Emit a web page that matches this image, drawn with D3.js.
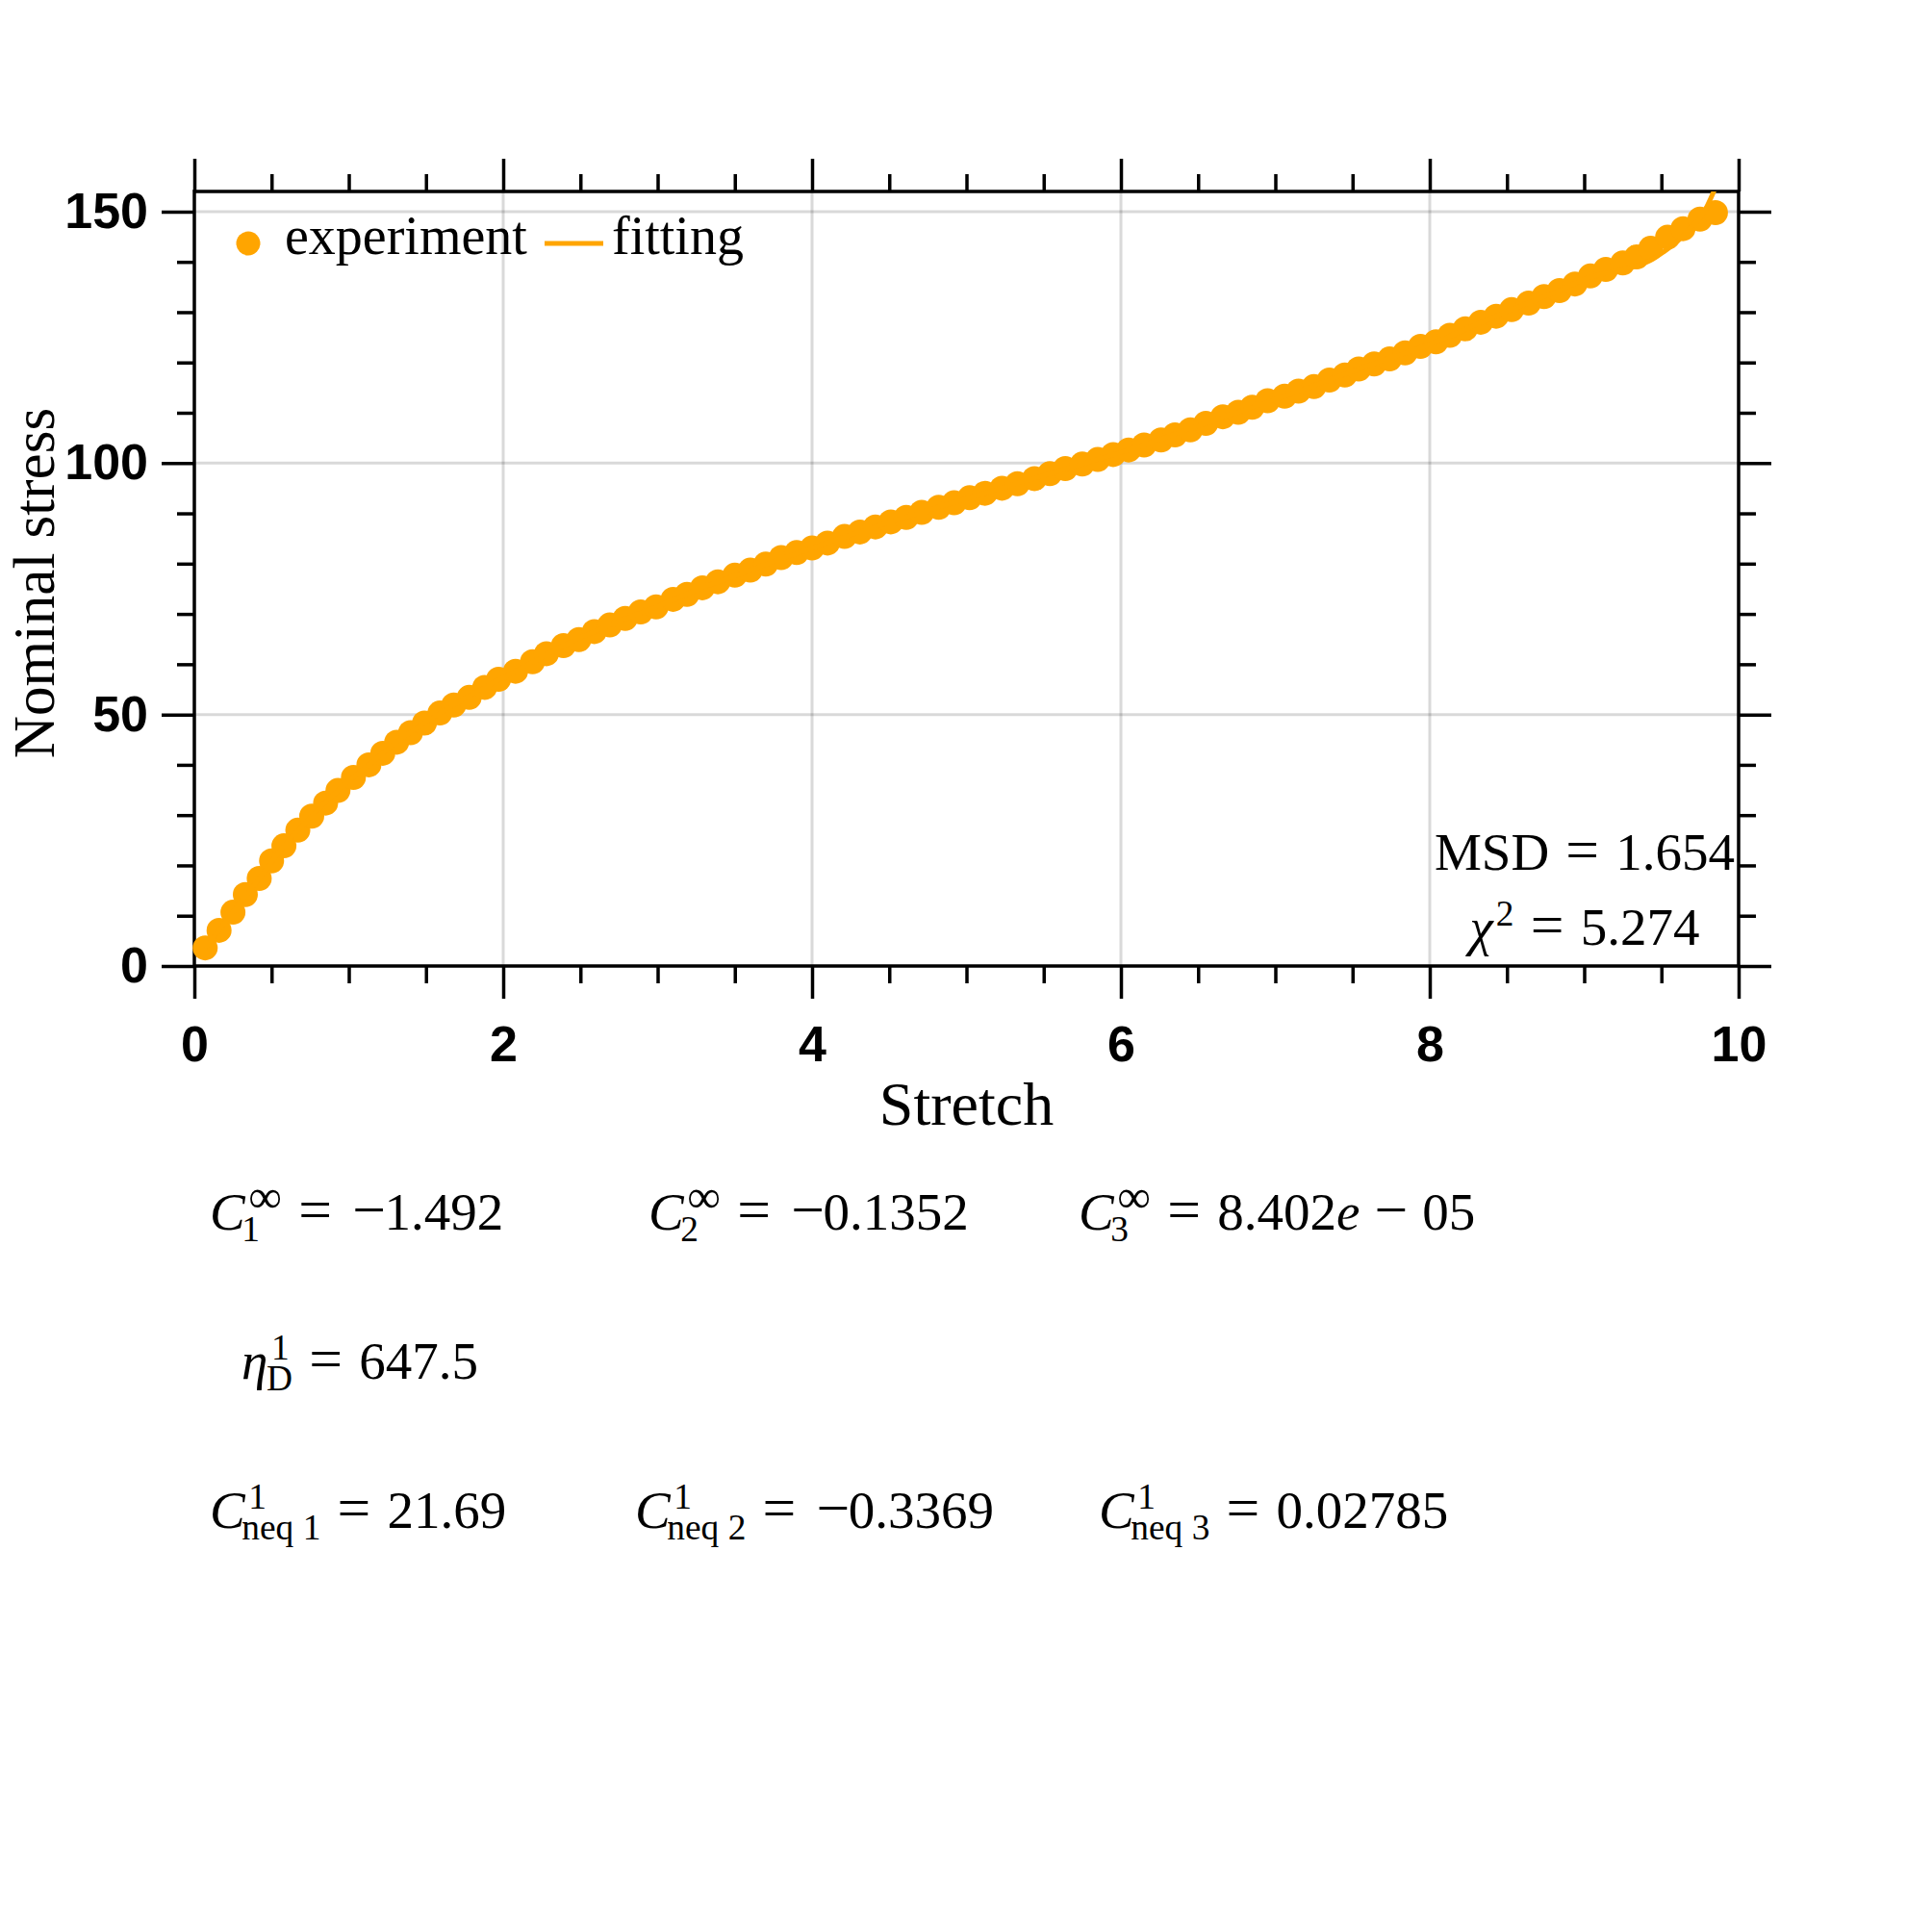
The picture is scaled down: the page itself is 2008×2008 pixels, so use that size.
<!DOCTYPE html>
<html><head><meta charset="utf-8">
<script src="https://cdn.jsdelivr.net/npm/d3@7"></script>
<style>body{margin:0;background:#fff}</style>
</head><body><svg id="c" width="2008" height="2008"></svg>
<script>
// ---------- data ----------
const stretch = [0.07,0.16,0.25,0.33,0.42,0.50,0.58,0.67,0.76,0.85,0.93,1.03,1.13,1.22,1.31,1.40,1.49,1.59,1.68,1.78,1.88,1.97,2.08,2.19,2.28,2.39,2.49,2.59,2.69,2.79,2.89,2.99,3.10,3.19,3.29,3.39,3.50,3.60,3.70,3.80,3.90,4.00,4.10,4.21,4.31,4.41,4.51,4.61,4.71,4.82,4.92,5.02,5.12,5.23,5.33,5.44,5.54,5.64,5.75,5.85,5.95,6.05,6.15,6.26,6.35,6.45,6.55,6.66,6.76,6.85,6.95,7.06,7.15,7.25,7.35,7.45,7.54,7.64,7.74,7.84,7.94,8.04,8.13,8.23,8.33,8.43,8.53,8.64,8.74,8.84,8.94,9.04,9.14,9.25,9.34,9.43,9.54,9.64,9.75,9.85];
const stress = [3.6,7.1,10.7,14.2,17.4,20.9,23.9,27.0,29.8,32.4,34.9,37.5,40.0,42.3,44.5,46.4,48.3,50.3,51.9,53.4,55.4,57.0,58.6,60.5,62.1,63.7,64.9,66.5,67.8,69.1,70.4,71.4,72.9,73.9,75.2,76.4,77.7,78.7,79.9,81.2,82.2,83.1,84.1,85.4,86.3,87.3,88.3,89.2,90.2,91.2,92.1,93.1,94.0,95.0,95.9,96.9,97.9,98.9,99.8,100.7,101.7,102.6,103.6,104.6,105.6,106.6,107.9,109.2,110.1,111.1,112.4,113.3,114.3,115.2,116.5,117.5,118.7,119.7,120.7,121.9,123.2,124.1,125.4,126.7,128.0,129.2,130.5,131.8,133.1,134.3,135.6,137.2,138.5,139.8,141.0,142.7,144.9,146.6,148.5,149.8];
const fitStretch = [0.07,0.25,0.42,0.58,0.76,0.93,1.13,1.31,1.49,1.68,1.88,2.08,2.39,2.69,2.99,3.29,3.60,4.00,4.51,5.02,5.54,6.05,6.55,7.06,7.54,8.04,8.53,8.84,9.04,9.18,9.32,9.43,9.51,9.60,9.68,9.77,9.86];
const fitStress  = [3.6,10.7,17.4,23.9,29.8,34.9,40.0,44.5,48.3,51.9,55.4,58.6,63.7,67.8,71.4,75.2,78.7,83.1,88.3,93.1,97.9,102.6,107.9,113.3,118.7,124.1,130.5,134.3,137.0,138.0,139.0,140.3,141.9,144.0,146.5,149.6,155.5];
const xMajor = [0,2,4,6,8,10];
const xMinor = [0.5,1,1.5,2.5,3,3.5,4.5,5,5.5,6.5,7,7.5,8.5,9,9.5];
const yMajor = [0,50,100,150];
const yMinor = [10,20,30,40,60,70,80,90,110,120,130,140];
const xLabel = "Stretch";
const yLabel = "Nominal stress";
const legendLabels = ["experiment","fitting"];
const msdValue = "1.654";
const chi2Value = "5.274";
const row1 = [["C","1","∞","−1.492"],["C","2","∞","−0.1352"],["C","3","∞","8.402e−05"]];
const row2 = [["η","D","1","647.5"]];
const row3 = [["C","neq 1","1","21.69"],["C","neq 2","1","−0.3369"],["C","neq 3","1","0.02785"]];

// ---------- layout ----------
const W = 2008, H = 2008;
const L = 202, R = 1807, T = 199, B = 1004;
const ORANGE = "#FFA500";
const SERIF = "'Liberation Serif','Times New Roman',serif";
const SANS = "'Liberation Sans',Arial,sans-serif";
const LW = 3.5;

const svg = d3.select("#c");
svg.append("rect").attr("width",W).attr("height",H).attr("fill","#fff");

const x = d3.scaleLinear().domain([0,10]).range([L,R]);
const y = d3.scaleLinear().domain([0,154]).range([B,T]);

// grid
const grid = svg.append("g").attr("stroke","#000").attr("stroke-opacity",0.15).attr("stroke-width",3);
grid.selectAll(".gx").data(xMajor.filter(d=>d>0&&d<10)).join("line")
  .attr("x1",d=>x(d)).attr("x2",d=>x(d)).attr("y1",T).attr("y2",B);
grid.selectAll(".gy").data(yMajor.filter(d=>d>0)).join("line")
  .attr("x1",L).attr("x2",R).attr("y1",d=>y(d)).attr("y2",d=>y(d));

// axes
function styleAxis(g){
  g.select(".domain").remove();
  g.selectAll("line").attr("stroke","#000").attr("stroke-width",LW);
  g.selectAll("text").attr("font-family",SANS).attr("font-weight","bold").attr("font-size",52).attr("fill","#000");
}
svg.append("g").attr("transform",`translate(0,${B})`)
  .call(d3.axisBottom(x).tickValues(xMajor).tickSize(34).tickPadding(28).tickSizeOuter(0).tickFormat(d3.format("d"))).call(styleAxis);
svg.append("g").attr("transform",`translate(0,${B})`)
  .call(d3.axisBottom(x).tickValues(xMinor).tickSize(18).tickSizeOuter(0).tickFormat("")).call(styleAxis);
svg.append("g").attr("transform",`translate(0,${T})`)
  .call(d3.axisTop(x).tickValues(xMajor).tickSize(34).tickSizeOuter(0).tickFormat("")).call(styleAxis);
svg.append("g").attr("transform",`translate(0,${T})`)
  .call(d3.axisTop(x).tickValues(xMinor).tickSize(18).tickSizeOuter(0).tickFormat("")).call(styleAxis);
svg.append("g").attr("transform",`translate(${L},0)`)
  .call(d3.axisLeft(y).tickValues(yMajor).tickSize(34).tickPadding(14).tickSizeOuter(0).tickFormat(d3.format("d"))).call(styleAxis);
svg.append("g").attr("transform",`translate(${L},0)`)
  .call(d3.axisLeft(y).tickValues(yMinor).tickSize(18).tickSizeOuter(0).tickFormat("")).call(styleAxis);
svg.append("g").attr("transform",`translate(${R},0)`)
  .call(d3.axisRight(y).tickValues(yMajor).tickSize(34).tickSizeOuter(0).tickFormat("")).call(styleAxis);
svg.append("g").attr("transform",`translate(${R},0)`)
  .call(d3.axisRight(y).tickValues(yMinor).tickSize(18).tickSizeOuter(0).tickFormat("")).call(styleAxis);

// spines
svg.append("rect").attr("x",L).attr("y",T).attr("width",R-L).attr("height",B-T)
  .attr("fill","none").attr("stroke","#000").attr("stroke-width",LW);

// clip
svg.append("clipPath").attr("id","pc").append("rect").attr("x",L).attr("y",T).attr("width",R-L).attr("height",B-T);

// scatter
const pts = stretch.map((s,i)=>({x:s,y:stress[i]}));
svg.append("g").selectAll("circle").data(pts).join("circle")
  .attr("cx",d=>x(d.x)).attr("cy",d=>y(d.y)).attr("r",13).attr("fill",ORANGE);

// fit line
const fit = fitStretch.map((s,i)=>({x:s,y:fitStress[i]}));
svg.append("path").datum(fit).attr("clip-path","url(#pc)")
  .attr("d",d3.line().x(d=>x(d.x)).y(d=>y(d.y)).curve(d3.curveMonotoneX))
  .attr("fill","none").attr("stroke",ORANGE).attr("stroke-width",5);

// legend
svg.append("circle").attr("cx",258).attr("cy",253).attr("r",12.5).attr("fill",ORANGE);
svg.append("text").attr("x",296).attr("y",264).attr("font-family",SERIF).attr("font-size",56).text(legendLabels[0]);
svg.append("line").attr("x1",566).attr("x2",627).attr("y1",253).attr("y2",253).attr("stroke",ORANGE).attr("stroke-width",5);
svg.append("text").attr("x",636).attr("y",264).attr("font-family",SERIF).attr("font-size",56).text(legendLabels[1]);

// axis labels
svg.append("text").attr("x",(L+R)/2).attr("y",1169).attr("text-anchor","middle")
  .attr("font-family",SERIF).attr("font-size",64).text(xLabel);
svg.append("text").attr("transform",`translate(56,606) rotate(-90)`).attr("text-anchor","middle")
  .attr("font-family",SERIF).attr("font-size",61).text(yLabel);

// math renderer: one <text> per formula, pieces as positioned tspans
function renderMath(parts, px, py, fs, anchor){
  const g = svg.append("g");
  const txt = g.append("text").attr("font-family",SERIF).attr("fill","#000").attr("font-size",fs);
  let cx = 0;
  const span = (s, sx, sy, size, italic) => {
    const t = txt.append("tspan").attr("x",sx).attr("y",sy).attr("font-size",size)
      .attr("font-style",italic?"italic":"normal").text(s);
    return t.node().getComputedTextLength();
  };
  for (const p of parts){
    if (p.space!==undefined){ cx += p.space*fs; continue; }
    if (p.scripts){
      const ss = fs*0.68; let w = 0;
      if (p.sup){
        const sz = p.sup==="∞" ? ss*1.3 : ss;
        w = Math.max(w, span(p.sup, cx+(p.supShift||0), -fs*(p.sup==="∞"?0.33:0.36), sz, false)+(p.supShift||0));
      }
      if (p.sub){
        w = Math.max(w, span(p.sub, cx+(p.subShift||0), fs*0.21, ss, false)+(p.subShift||0));
      }
      cx += w; continue;
    }
    if (p.op){
      const box = fs*0.778;
      const t = txt.append("tspan").attr("y",0).attr("font-size",fs*1.12).attr("font-style","normal").text(p.op);
      const w = t.node().getComputedTextLength();
      t.attr("x", cx + (box-w)/2);
      cx += box; continue;
    }
    cx += span(p.t, cx, 0, fs, p.it);
  }
  const off = anchor==="middle" ? -cx/2 : anchor==="end" ? -cx : 0;
  g.attr("transform",`translate(${px+off},${py})`);
  return cx;
}
function valueParts(v){
  const parts = [];
  let s = v;
  if (s[0]==="−"){ parts.push({op:"−"}); parts.push({space:-0.1}); s = s.slice(1); }
  const ei = s.indexOf("e");
  if (ei>=0){
    parts.push({t:s.slice(0,ei)}); parts.push({t:"e",it:true});
    parts.push({space:0.2}); parts.push({op:"−"}); parts.push({space:0.2});
    parts.push({t:s.slice(ei+2)});
  } else parts.push({t:s});
  return parts;
}
function paramParts(item){
  const [base,sub,sup,val] = item;
  return [{t:base,it:true},{space:0.03},{scripts:true,sup:sup,sub:sub,subShift: base==="C"?-5:-3, supShift: 2},
          {space:0.24},{op:"="},{space:0.24}].concat(valueParts(val));
}

// stats
renderMath([{t:"MSD"},{space:0.24},{op:"="},{space:0.24},{t:msdValue}],1647,904,55,"middle");
renderMath([{t:"χ",it:true},{scripts:true,sup:"2",supShift:3},{space:0.24},{op:"="},{space:0.24},{t:chi2Value}],1647,982,55,"middle");

// parameter rows
const row1X = [218,674,1121], row3X = [218,660,1142];
row1.forEach((it,i)=>renderMath(paramParts(it),row1X[i],1278,55,"start"));
row2.forEach((it)=>renderMath(paramParts(it),251,1433,55,"start"));
row3.forEach((it,i)=>renderMath(paramParts(it),row3X[i],1588,55,"start"));
</script></body></html>
